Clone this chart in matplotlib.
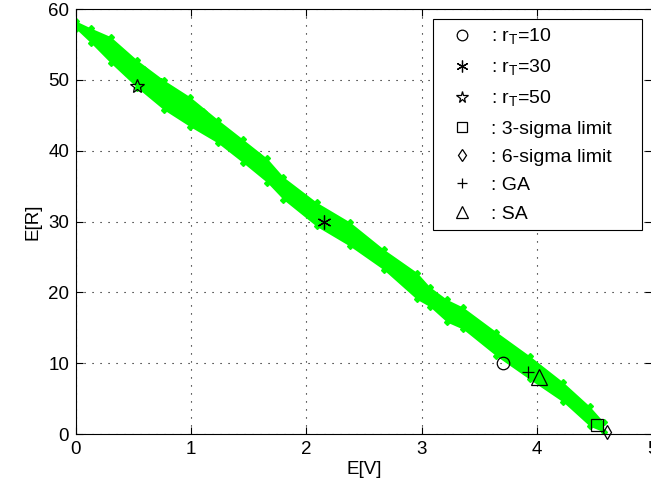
import numpy as np
import matplotlib.pyplot as plt
from matplotlib.lines import Line2D

plt.rcParams['font.family'] = ['Liberation Sans', 'DejaVu Sans']
plt.rcParams['mathtext.fontset'] = 'custom'
plt.rcParams['mathtext.rm'] = 'Liberation Sans'
plt.rcParams['font.size'] = 13.5

band_x = [0.00, 0.13, 0.30, 0.53, 0.76, 0.99, 1.23, 1.45, 1.66, 1.80, 2.09,
          2.38, 2.67, 2.96, 3.07, 3.22, 3.36, 3.65, 3.94, 4.23, 4.46, 4.58]
band_upper = [58.3, 57.3, 56.1, 52.8, 50.0, 47.6, 44.4, 41.6, 38.9, 36.3, 32.7,
              29.9, 26.1, 22.8, 20.8, 19.0, 17.9, 14.4, 11.0, 7.3, 3.9, 1.7]
band_lower = [57.2, 55.2, 52.4, 48.9, 45.8, 43.4, 41.1, 38.3, 35.5, 33.1, 29.3,
              26.5, 23.2, 19.0, 18.0, 15.8, 14.8, 11.0, 7.7, 4.5, 1.1, 0.3]

# stray points sticking out of the band
stray_x = [0.33, 0.39, 0.59, 0.74, 1.10, 1.23, 1.34, 1.58]
stray_y = [53.9, 53.2, 51.4, 49.7, 45.5, 43.4, 42.0, 39.2]

# highlighted solutions
pts = {
    ': r$_\\mathrm{T}$=10': (3.71, 10.0),
    ': r$_\\mathrm{T}$=30': (2.15, 30.0),
    ': r$_\\mathrm{T}$=50': (0.53, 49.2),
    ': 3-sigma limit': (4.52, 1.3),
    ': 6-sigma limit': (4.61, 0.3),
    ': GA': (3.92, 8.7),
    ': SA': (4.02, 8.1),
}
markers = ['o', (6, 2, 0), '*', 's', 'd', '+', '^']
sizes = [9, 10, 10, 9, 7, 9, 11]

fig = plt.figure(figsize=(6.51, 4.98), dpi=100)
ax = fig.add_axes([0.1167, 0.1285, 0.8848, 0.8534])

green = (0, 1, 0)
ax.fill_between(band_x, band_lower, band_upper, color=green, lw=0, zorder=2)
ax.plot(band_x, band_upper, 'D', color=green, ms=3, zorder=2)
ax.plot(band_x, band_lower, 'D', color=green, ms=3, zorder=2)
ax.plot(stray_x, stray_y, 'D', color=green, ms=4.5, zorder=2)

handles = []
for (lab, (px, py)), m, s in zip(pts.items(), markers, sizes):
    ax.plot(px, py, linestyle='none', marker=m, ms=s, mfc='none', mec='k',
            mew=0.9, zorder=3, clip_on=False)
    handles.append(Line2D([], [], linestyle='none', marker=m, ms=s * 0.85,
                          mfc='none', mec='k', mew=0.9, label=lab))

ax.set_xlim(0, 5)
ax.set_ylim(0, 60)
ax.set_xticks(range(0, 6))
ax.set_yticks(range(0, 61, 10))
ax.grid(True, color='k', linestyle=(0, (1, 6.2)), linewidth=0.8)
ax.set_axisbelow(True)
ax.tick_params(direction='in', length=5, top=True, right=True, width=0.8, pad=5)
for sp in ax.spines.values():
    sp.set_linewidth(0.8)

ax.set_xlabel('E[V]', labelpad=2)
ax.set_ylabel('E[R]', labelpad=5)

leg = ax.legend(handles=handles, loc='upper left',
                bbox_to_anchor=(0.620, 0.487, 0.363, 0.489), mode='expand',
                borderaxespad=0, fancybox=False, edgecolor='k', framealpha=1,
                handlelength=2.2, handletextpad=0.4, borderpad=0.4,
                labelspacing=0.55, numpoints=1, fontsize=14)
leg.get_frame().set_linewidth(0.8)

fig.savefig('out.png', dpi=100)
